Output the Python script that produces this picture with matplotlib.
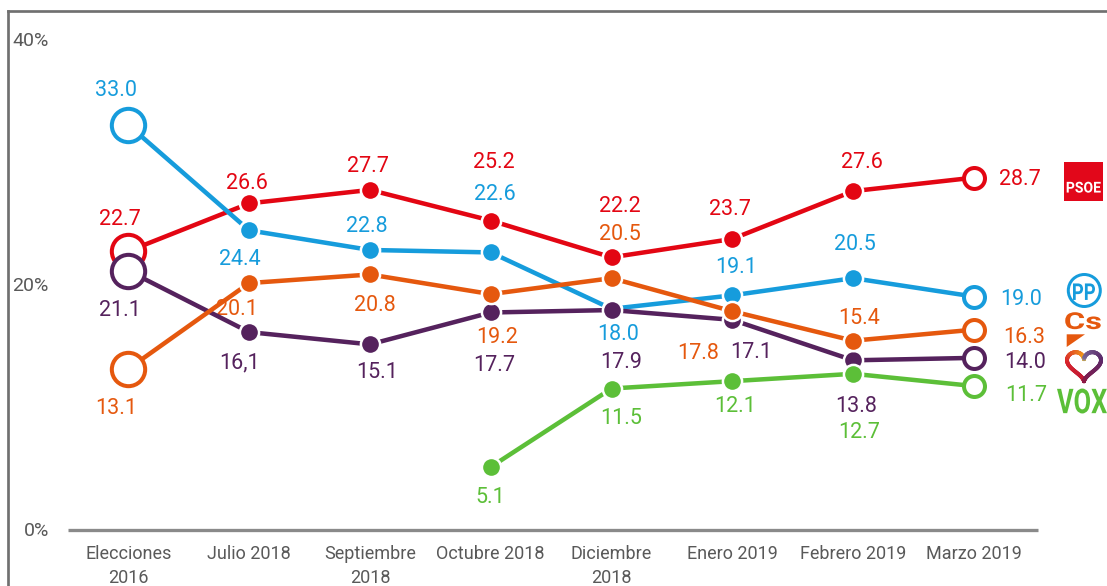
import matplotlib
matplotlib.use("Agg")
import matplotlib.pyplot as plt
import numpy as np
from matplotlib.lines import Line2D
from matplotlib.patches import Rectangle, Circle, Polygon, PathPatch
from matplotlib.textpath import TextPath
from matplotlib.font_manager import FontProperties
from matplotlib.transforms import Affine2D
from matplotlib.collections import LineCollection

# ---------------- data ----------------
categories = ["Elecciones\n2016", "Julio 2018", "Septiembre\n2018", "Octubre 2018",
              "Diciembre\n2018", "Enero 2019", "Febrero 2019", "Marzo 2019"]
psoe = [22.7, 26.6, 27.7, 25.2, 22.2, 23.7, 27.6, 28.7]
pp = [33.0, 24.4, 22.8, 22.6, 18.0, 19.1, 20.5, 19.0]
cs = [13.1, 20.1, 20.8, 19.2, 20.5, 17.8, 15.4, 16.3]
podemos = [21.1, 16.1, 15.1, 17.7, 17.9, 17.1, 13.8, 14.0]
vox = [None, None, None, 5.1, 11.5, 12.1, 12.7, 11.7]
podemos_labels = ["21.1", "16,1", "15.1", "17.7", "17.9", "17.1", "13.8", "14.0"]
yticks = [0, 20, 40]
ytick_labels = ["0%", "20%", "40%"]

# ---------------- style ----------------
W, H = 1107, 586
FONT = "Roboto"
plt.rcParams["font.family"] = [FONT, "DejaVu Sans"]
TICK_COLOR = "#595959"
C_PSOE = "#e30613"
C_PP = "#169cdc"
C_CS = "#e5580e"
C_POD = "#55225d"
C_VOX = "#5cbf38"
PX = 0.72  # points per pixel at dpi 100

# label offsets in pixels (dx, dy with dy downward); 'R' = right of last point
off_psoe = [(-8, -34), (-2, -22), (-2, -26), (3, -60), (8, -53), (-2, -32), (9, -31), ("R", 25, 0)]
off_pp = [(-12, -37), (-9, 27), (-3, -26), (4, -60), (7, 24), (4, -30), (2, -36), ("R", 26, 0.6)]
off_cs = [(-12, 37), (-12, 24), (5, 29), (6, 41), (8, -46), (-34, 40), (6, -24), ("R", 29, 6)]
off_pod = [(-8, 38), (-10, 29), (7, 26), (3, 51), (10, 50), (19, 30), (3, 44), ("R", 30, 2)]
off_vox = [None, None, None, (0, 28), (10, 28), (3, 23), (6, 57), ("R", 31, 7)]

fig = plt.figure(figsize=(W / 100, H / 100), dpi=100)
fig.patch.set_facecolor("white")

# pixel transform (x right, y down) in figure
pix = Affine2D().scale(1, -1).translate(0, H).scale(1 / W, 1 / H) + fig.transFigure

# frame lines
fig.add_artist(Line2D([8, 8], [10.7, H + 5], transform=pix, color="#707070", lw=2.7 * PX))
fig.add_artist(Line2D([8, W + 5], [10.7, 10.7], transform=pix, color="#707070", lw=2.7 * PX))

x0px, unit = 128.3, 120.81
ax_left, ax_right, ax_bottom, ax_top = 68, 1038, 529.5, 39.1
ax = fig.add_axes([ax_left / W, (H - ax_bottom) / H, (ax_right - ax_left) / W, (ax_bottom - ax_top) / H])
ax.set_xlim((ax_left - x0px) / unit, (ax_right - x0px) / unit)
ax.set_ylim(0, 40)
ax.patch.set_alpha(0)
for s in ["left", "right", "top"]:
    ax.spines[s].set_visible(False)
ax.spines["bottom"].set_color("#8a8a8a")
ax.spines["bottom"].set_linewidth(3.3 * PX)
ax.spines["bottom"].set_capstyle("butt")

ax.set_xticks(range(len(categories)))
ax.set_xticklabels(categories, fontsize=13, color=TICK_COLOR, family=FONT)
for lbl in ax.get_xticklabels():
    lbl.set_linespacing(1.45)
ax.set_yticks(yticks)
ax.set_yticklabels(ytick_labels, fontsize=14, color=TICK_COLOR, family=FONT)
ax.tick_params(axis="x", length=0, pad=11)
ax.tick_params(axis="y", length=0, pad=13.7)

LABEL_FS = 15.5
CAP_HALF = 0.711 * LABEL_FS / PX / 2  # pixels

series = [
    (psoe, C_PSOE, 2, off_psoe, None),
    (pp, C_PP, 3, off_pp, None),
    (podemos, C_POD, 4, off_pod, podemos_labels),
    (cs, C_CS, 5, off_cs, None),
    (vox, C_VOX, 6, off_vox, None),
]

for vals, col, z, offs, labels in series:
    idx = [i for i, v in enumerate(vals) if v is not None]
    ys = [vals[i] for i in idx]
    ax.plot(idx, ys, color=col, lw=4.5 * PX, zorder=z, solid_joinstyle="round")
    mid = idx[1:-1] if vals[0] is not None else idx[:-1]
    ax.plot(mid, [vals[i] for i in mid], ls="none", marker="o", ms=13.8, mfc=col,
            mec="white", mew=1.8, zorder=z + 0.1)
    if vals[0] is not None:
        ax.plot([idx[0]], [vals[idx[0]]], ls="none", marker="o", ms=24, mfc="white",
                mec=col, mew=2.9, zorder=z + 0.2)
    ax.plot([idx[-1]], [vals[idx[-1]]], ls="none", marker="o", ms=15.1, mfc="white",
            mec=col, mew=2.9, zorder=z + 0.2)
    for i in idx:
        txt = labels[i] if labels is not None else f"{vals[i]:.1f}"
        o = offs[i]
        if o[0] == "R":
            dx, dy, ha = o[1], o[2], "left"
        else:
            dx, dy, ha = o[0], o[1], "center"
        ax.annotate(txt, (i, vals[i]), xytext=(dx * PX, -(dy + CAP_HALF) * PX),
                    textcoords="offset points", ha=ha, va="baseline",
                    fontsize=LABEL_FS, color=col, family=FONT, zorder=1.5,
                    annotation_clip=False)


# ---------------- logos ----------------
def logo_text(s, cx, cy, w, h, color, weight="bold", family=FONT):
    fp = FontProperties(family=family, weight=weight)
    tp = TextPath((0, 0), s, size=100, prop=fp)
    bb = tp.get_extents()
    sx, sy = w / bb.width, h / bb.height
    tr = Affine2D().translate(-(bb.x0 + bb.width / 2), -(bb.y0 + bb.height / 2)).scale(sx, -sy).translate(cx, cy)
    patch = PathPatch(tp, transform=tr + pix, facecolor=color, edgecolor="none", lw=0)
    fig.add_artist(patch)


# PSOE
fig.add_artist(Rectangle((1064, 161.7), 39.3, 39, transform=pix, facecolor="#e2071a", edgecolor="none"))
logo_text("PSOE", 1083.7, 187.2, 34, 11, "white")
# PP
fig.add_artist(Circle((1084.3, 290.5), 16, transform=pix, fill=False, ec=C_PP, lw=3 * PX))
logo_text("PP", 1084, 291.7, 22, 16.5, C_PP)
# Cs
logo_text("Cs", 1083, 320.7, 35.5, 17, C_CS)
fig.add_artist(Polygon([(1066.7, 334.3), (1085, 334.3), (1066.7, 347)], closed=True,
                       transform=pix, facecolor=C_CS, edgecolor="none"))
# Podemos heart
t = np.linspace(-np.pi, np.pi, 200)
hx = 16 * np.sin(t) ** 3
hy = 13 * np.cos(t) - 5 * np.cos(2 * t) - 2 * np.cos(3 * t) - np.cos(4 * t)
hx = 1084 + (hx - (hx.max() + hx.min()) / 2) / (hx.max() - hx.min()) * 34
hy = 366.7 - (hy - (hy.max() + hy.min()) / 2) / (hy.max() - hy.min()) * 29
pts = np.column_stack([hx, hy])
segs = np.stack([pts[:-1], pts[1:]], axis=1)
stops_t = [-np.pi, -np.pi / 2, -0.35, 0.0, 0.35, np.pi / 2, np.pi]
stops_c = [(0.70, 0.08, 0.23), (0.85, 0.14, 0.17), (0.95, 0.60, 0.10), (0.90, 0.76, 0.25),
           (0.48, 0.42, 0.60), (0.36, 0.16, 0.42), (0.55, 0.10, 0.27)]
tm = (t[:-1] + t[1:]) / 2
cols = np.array([[np.interp(v, stops_t, [c[k] for c in stops_c]) for k in range(3)] for v in tm])
lc = LineCollection(segs, colors=cols, linewidths=4 * PX, transform=pix, capstyle="round")
fig.add_artist(lc)
# VOX
logo_text("VOX", 1082, 401, 50, 25, C_VOX)

fig.savefig("out.png", dpi=100, facecolor="white")
